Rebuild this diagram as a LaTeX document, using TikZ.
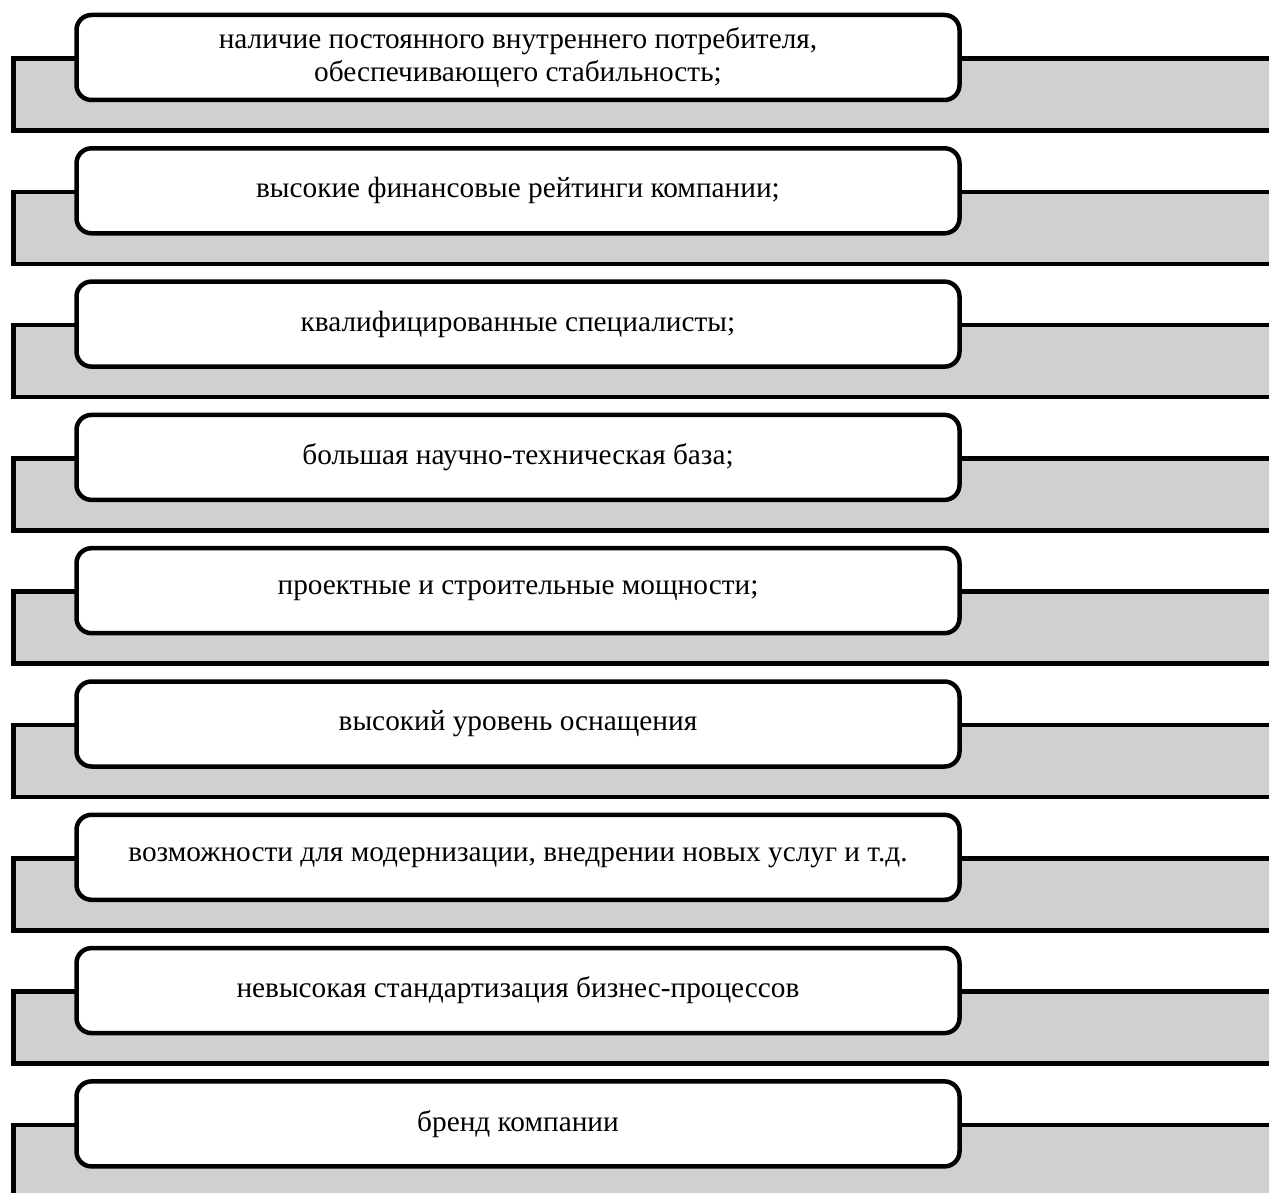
\documentclass[tikz,border=0pt]{standalone}
\usepackage{fontspec}
\setmainfont{Liberation Serif}
\definecolor{panelgray}{RGB}{208,208,208}
\begin{document}
\begin{tikzpicture}[x=1pt,y=-1pt,
  item/.style={draw, line width=4.5pt, fill=white, rounded corners=15pt,
    minimum width=883pt, minimum height=85pt, align=center, inner sep=0pt,
    font=\fontsize{29.3}{33}\selectfont},
  band/.style={fill=panelgray, draw, line width=4.5pt}]
\useasboundingbox (0,0) rectangle (1269,1193);
\clip (0,0) rectangle (1269,1193);
\foreach \i/\t in {
  0/{наличие постоянного внутреннего потребителя,\\обеспечивающего стабильность;},
  1/{высокие финансовые рейтинги компании;},
  2/{квалифицированные специалисты;},
  3/{большая научно-техническая база;},
  4/{проектные и строительные мощности;},
  5/{высокий уровень оснащения},
  6/{возможности для модернизации, внедрении новых услуг и т.д.},
  7/{невысокая стандартизация бизнес-процессов},
  8/{бренд компании}} {
  \pgfmathsetmacro\yy{15+133.3*\i}
  \draw[band] (13.5,\yy+43.5) rectangle (1300,\yy+115.5);
  \node[item] (b\i) at (518,\yy+42.5) {\t};
}
\end{tikzpicture}
\end{document}
